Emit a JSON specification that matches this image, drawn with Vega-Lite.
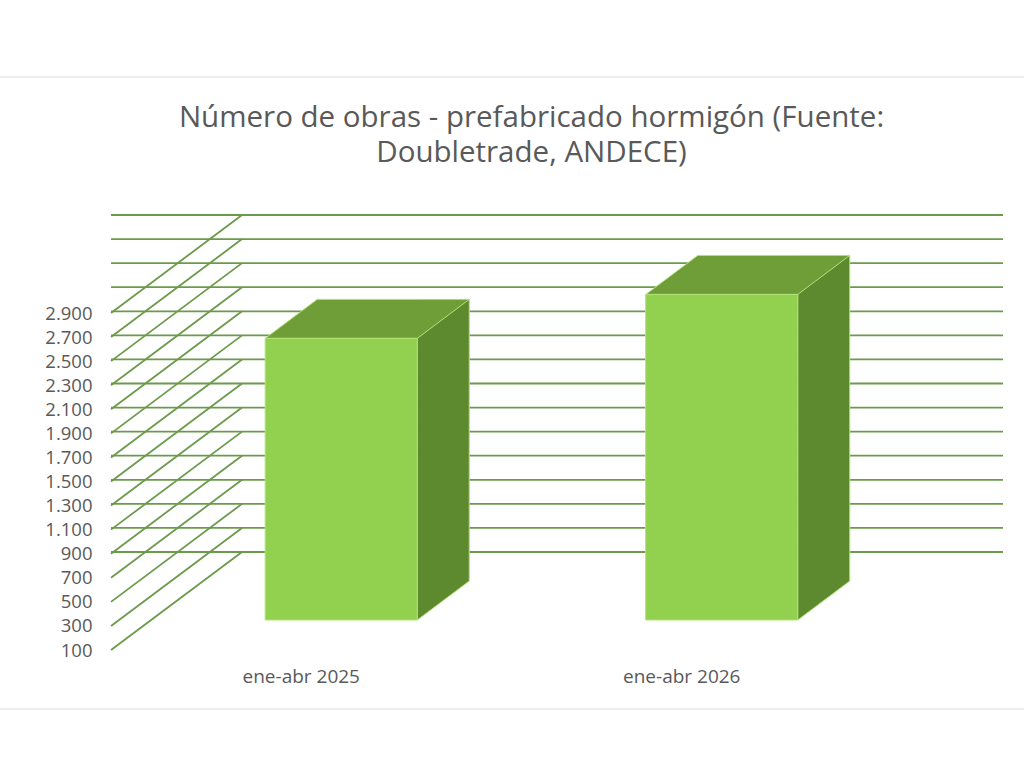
{
  "$schema": "https://vega.github.io/schema/vega-lite/v6.json",
  "width": 761,
  "height": 337,
  "autosize": {"type": "none"},
  "padding": {"left": 111, "top": 313, "right": 152, "bottom": 118},
  "background": "white",
  "title": {
    "text": ["Número de obras - prefabricado hormigón (Fuente:", "Doubletrade, ANDECE)"],
    "font": "Open Sans",
    "fontSize": 29.5,
    "fontWeight": "normal",
    "color": "#595959",
    "anchor": "middle",
    "frame": "group",
    "dx": 40,
    "baseline": "bottom",
    "lineHeight": 35,
    "offset": -121
  },
  "config": {
    "view": {"stroke": null},
    "font": "Open Sans",
    "axis": {
      "domain": false,
      "ticks": false,
      "tickSize": 0,
      "grid": false,
      "labelFont": "Open Sans",
      "labelColor": "#595959",
      "labelOverlap": false
    },
    "axisY": {"labelPadding": 19, "labelFontSize": 18.5},
    "axisX": {"labelPadding": 17, "labelAngle": 0, "labelFontSize": 19}
  },
  "datasets": {
    "obras": [
      {"periodo": "ene-abr 2025", "obras": 2440},
      {"periodo": "ene-abr 2026", "obras": 2805}
    ],
    "grid": [
      {"v": 100}, {"v": 300}, {"v": 500}, {"v": 700}, {"v": 900},
      {"v": 1100}, {"v": 1300}, {"v": 1500}, {"v": 1700}, {"v": 1900},
      {"v": 2100}, {"v": 2300}, {"v": 2500}, {"v": 2700}, {"v": 2900}
    ],
    "one": [{}]
  },
  "layer": [
    {
      "data": {"name": "one"},
      "mark": {"type": "rule", "color": "#d9d9d9", "strokeWidth": 1, "yOffset": -236, "xOffset": -111, "x2Offset": 152},
      "encoding": {
        "x": {"value": 0},
        "x2": {"value": "width"},
        "y": {"datum": 2900, "type": "quantitative", "title": null}
      }
    },
    {
      "data": {"name": "one"},
      "mark": {"type": "rule", "color": "#d9d9d9", "strokeWidth": 1, "yOffset": 59, "xOffset": -111, "x2Offset": 152},
      "encoding": {
        "x": {"value": 0},
        "x2": {"value": "width"},
        "y": {"datum": 100, "type": "quantitative", "title": null}
      }
    },
    {
      "data": {"name": "grid"},
      "mark": {"type": "rule", "color": "#6b9b4a", "strokeWidth": 1.8, "xOffset": 131, "yOffset": -98},
      "encoding": {
        "y": {
          "field": "v",
          "type": "quantitative",
          "title": null,
          "scale": {"domain": [100, 2900], "nice": false, "zero": false},
          "axis": {
            "title": null,
            "labelOverlap": false,
            "tickCount": 15,
            "values": [100, 300, 500, 700, 900, 1100, 1300, 1500, 1700, 1900, 2100, 2300, 2500, 2700, 2900],
            "labelExpr": "replace(format(datum.value, ','), ',', '.')"
          }
        }
      }
    },
    {
      "data": {"name": "grid"},
      "mark": {"type": "rule", "color": "#6b9b4a", "strokeWidth": 1.8, "x2Offset": 131, "y2Offset": -98},
      "encoding": {
        "x": {"value": 0},
        "x2": {"value": 0},
        "y": {"field": "v", "type": "quantitative", "title": null},
        "y2": {"field": "v"}
      }
    },
    {
      "data": {"name": "obras"},
      "mark": {"type": "bar", "color": "#5e8a2f", "width": 52, "xOffset": 142, "yOffset": -69, "y2Offset": -69},
      "encoding": {
        "x": {"field": "periodo", "type": "nominal", "title": null, "scale": {"type": "band", "paddingInner": 0.6, "paddingOuter": 0.3}},
        "y": {"field": "obras", "type": "quantitative", "title": null},
        "y2": {"datum": 100}
      }
    },
    {
      "data": {"name": "obras"},
      "mark": {"type": "point", "shape": "M116,-70 L168,-70 L168,-69 L116,-30 Z", "size": 4, "filled": true, "opacity": 1, "color": "#5e8a2f", "strokeWidth": 0},
      "encoding": {
        "x": {"field": "periodo", "type": "nominal", "title": null, "scale": {"type": "band", "paddingInner": 0.6, "paddingOuter": 0.3}},
        "y": {"datum": 100, "type": "quantitative", "title": null}
      }
    },
    {
      "data": {"name": "obras"},
      "mark": {"type": "point", "shape": "M116,-30 L168,-69", "size": 4, "filled": false, "opacity": 1, "stroke": "#b3e37a", "strokeWidth": 1},
      "encoding": {
        "x": {"field": "periodo", "type": "nominal", "title": null, "scale": {"type": "band", "paddingInner": 0.6, "paddingOuter": 0.3}},
        "y": {"datum": 100, "type": "quantitative", "title": null}
      }
    },
    {
      "data": {"name": "obras"},
      "mark": {"type": "rule", "color": "#b3e37a", "strokeWidth": 1, "xOffset": 168, "yOffset": -69, "y2Offset": -69},
      "encoding": {
        "x": {"field": "periodo", "type": "nominal", "title": null, "scale": {"type": "band", "paddingInner": 0.6, "paddingOuter": 0.3}},
        "y": {"field": "obras", "type": "quantitative", "title": null},
        "y2": {"datum": 100}
      }
    },
    {
      "data": {"name": "obras"},
      "mark": {"type": "point", "shape": "M-36,-30 L116,-30 L168,-69 L16,-69 Z", "size": 4, "filled": true, "opacity": 1, "fill": "#6f9d38", "stroke": "#b3e37a", "strokeWidth": 1},
      "encoding": {
        "x": {"field": "periodo", "type": "nominal", "title": null, "scale": {"type": "band", "paddingInner": 0.6, "paddingOuter": 0.3}},
        "y": {"field": "obras", "type": "quantitative", "title": null}
      }
    },
    {
      "data": {"name": "obras"},
      "mark": {"type": "bar", "fill": "#92d050", "stroke": "#b3e37a", "strokeWidth": 1, "xOffset": 40, "yOffset": -30, "y2Offset": -30},
      "encoding": {
        "x": {"field": "periodo", "type": "nominal", "title": null, "scale": {"type": "band", "paddingInner": 0.6, "paddingOuter": 0.3}, "axis": {"title": null}},
        "y": {"field": "obras", "type": "quantitative", "title": null},
        "y2": {"datum": 100}
      }
    }
  ]
}
